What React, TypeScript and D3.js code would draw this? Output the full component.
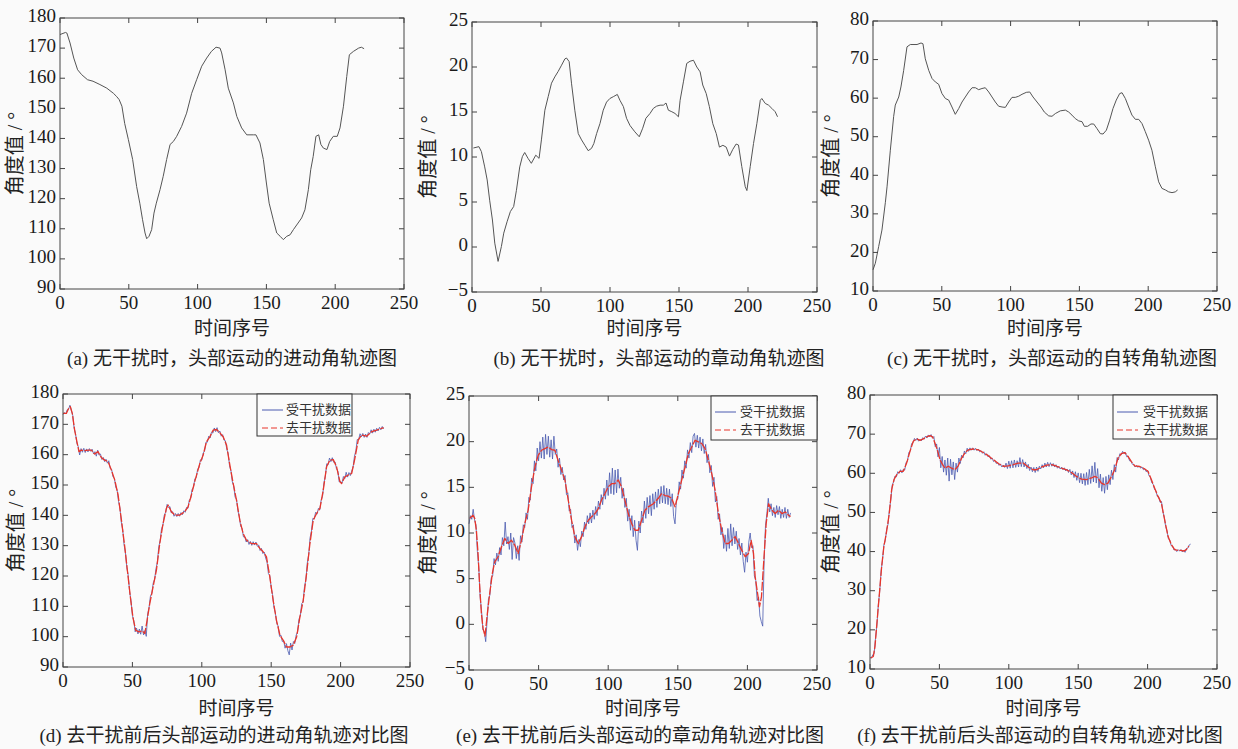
import React from "react";
import * as d3 from "d3";

// time index (x) and angle (deg)
// (a) precession, no disturbance
const aT = [0,4,5,7.3,10,12.8,15.7,20,24,29,34,38.8,41,43,45,47,49.7,52.8,55.7,58,60,61.8,63,64.7,66.6,68.3,70,72.7,75,77.5,80,82.4,84.8,88.4,92,95.7,99.3,103,106.6,110,113.4,116.3,117.5,120,122.3,126,128.5,132,135.7,140.5,142.4,145.3,147.8,150,152,155,157.5,160,162.3,164.8,167.2,169.6,173,175.6,178,180.5,182.2,184,186,188,189.6,191.4,194,196,198.6,201.5,203.5,206,208.4,210.3,213.2,217,219,221];
const aV = [174.5,175.2,175,171.7,166.7,162.8,161.2,159.5,159,157.9,156.7,155,154,152.9,150.7,145,139.6,133,124,118.5,113,108.6,106.7,107.5,109.7,115.2,118.5,123,127.4,133,138,139,140.7,144,148.4,155,159.5,164,166.7,168.9,170.3,170,168.4,162.8,156.7,151.8,147.3,143.5,141.2,141.2,141.2,138.5,133,125.2,118.5,113,108.6,107.5,106.4,107.5,108,109.7,111.9,113.6,116.3,123,129.6,134,140.7,141.2,138,136.8,136.3,139,140.7,140.7,143.5,150.7,160.6,167.8,168.9,170,170.3,169.8];

// (b) nutation, no disturbance
const bT = [1,5,6.8,9.2,11,12.8,14.8,16.5,18.9,21.3,23,25.4,27.8,30.2,32.2,34.6,36.5,38.2,40.6,43,46.2,48.6,50.3,52.8,55.2,57.6,60,62.4,64.9,67.3,68.5,70.4,72.1,74.5,77,79.4,81.8,84.2,86.6,88.3,90.3,92.7,95.1,97.5,99.9,102.4,105.3,107.2,109.7,112,114.5,118,121.2,123.7,126,129,131.4,133.8,136.3,138.7,140.6,142.3,144.8,147.1,149.6,150.8,153.2,155.6,158,160.5,162.9,165.3,167.2,169.7,172,174.5,177,179.3,181.8,184.2,186.6,189,191.4,193.1,195.5,198,199.2,201.6,204,206.4,208.9,210,212.5,214.9,217.3,219.7,221.4];
const bV = [11.0,11.15,10.6,8.9,7.45,5.2,3.0,0.43,-1.6,0.06,1.54,2.8,3.94,4.5,6.3,8.9,10.04,10.5,9.85,9.3,10.2,9.85,11.9,15.2,16.7,18.2,18.9,19.5,20.2,20.9,21.0,20.6,18.2,15.2,12.6,11.9,11.3,10.7,10.96,11.5,12.6,13.7,15.2,16.1,16.5,16.7,16.95,16.3,15.6,14.3,13.5,12.8,12.25,13.2,14.3,14.84,15.4,15.65,15.76,15.76,16.0,15.2,15.03,14.84,14.47,16.3,18.35,20.4,20.64,20.75,20.0,19.46,18.0,17.06,15.6,13.7,12.6,11.1,11.3,11.1,10.1,10.85,11.44,11.33,8.93,6.7,6.27,8.93,11.5,13.7,16.3,16.5,15.95,15.76,15.4,15.03,14.47];

// (c) spin, no disturbance
const cT = [0,1.7,4.1,6.5,9,10.2,12.6,15,16.2,18.7,20.3,22.3,24.7,27.1,32,34.9,36.3,38,40.5,42.9,45.3,47.7,50.1,52.6,55,57.4,59.8,62.3,64.7,67.1,69.5,72,74.4,76.8,79.2,81.6,84.1,86.5,88.9,91.3,93.8,96.2,98.6,101,103.4,105.9,108.3,111.4,113.9,116.3,119.2,122.1,124.5,127.7,130.1,132.5,136.1,139.8,142.2,144.6,147,149.5,151.9,153.6,156,158.4,160.4,162.8,165.2,167.2,169.6,172,174.4,176.8,179.3,181,183.4,185.8,188.2,190.7,193.1,195.5,197.9,200.3,202.7,205.2,207.6,210,212.5,214.9,217.3,219.7,221.4];
const cV = [15.5,17.2,21.5,25.8,33,37,46.5,55.2,58.2,60.3,62.9,67.2,73.3,73.9,73.9,74.3,74.1,70.2,67.2,65.1,64.2,63.6,61.2,59.9,59.5,57.7,55.8,57.3,59.0,60.3,61.6,62.7,62.7,62.2,62.5,62.7,61.6,60.3,59.0,57.9,57.7,57.6,59.0,60.2,60.2,60.5,61.0,61.5,61.6,60.3,59.0,57.7,56.4,55.4,55.3,56.0,56.7,56.9,56.4,55.6,54.7,54.1,53.9,52.7,52.7,53.3,53.3,52.1,50.8,50.7,51.7,54.3,57.3,59.5,61.2,61.4,59.9,57.7,55.6,54.5,54.5,53.4,51.3,49.1,46.5,42.2,38.3,36.6,36.2,35.7,35.5,35.7,36.2];

// (d) precession: disturbed (per index) and filtered
const dB = [173.2,173.9,173.4,174.8,175.0,176.3,174.6,173.0,168.8,166.9,
  163.8,162.6,159.9,162.0,160.8,162.1,160.7,161.9,160.9,162.0,
  161.1,161.8,160.3,161.0,159.5,161.5,159.8,160.2,158.4,159.1,
  157.7,158.5,157.2,158.0,155.4,155.2,152.7,152.3,149.3,148.3,
  144.6,142.5,137.8,135.3,130.3,127.6,122.7,120.2,114.8,111.9,
  107.0,105.3,101.6,102.8,100.9,102.5,100.8,103.5,100.6,102.0,
  100.1,107.5,109.6,113.4,114.3,117.7,118.9,122.4,124.6,129.6,
  131.7,135.6,136.8,140.1,141.0,143.6,142.6,142.9,140.8,141.2,
  139.7,140.6,139.6,140.6,139.7,140.9,140.2,141.5,141.0,142.6,
  142.3,145.0,145.6,148.5,149.3,152.0,152.5,155.2,155.8,158.3,
  158.2,160.5,161.2,164.1,164.1,166.1,165.5,167.4,167.1,168.8,
  167.6,168.9,167.2,167.8,166.1,166.6,164.8,164.6,161.8,160.4,
  156.3,154.7,151.0,149.7,146.0,145.3,141.6,139.6,136.4,135.7,
  132.9,132.9,131.2,132.0,130.4,131.4,130.1,131.3,130.2,131.2,
  129.8,130.2,128.4,129.1,127.4,127.9,125.9,124.6,120.8,120.1,
  116.1,113.8,109.6,107.8,104.4,103.5,100.1,100.5,98.4,98.7,
  96.2,97.7,95.4,94.0,97.9,95.6,98.4,97.8,100.5,101.6,
  105.7,107.1,110.9,111.5,116.5,118.8,124.3,127.0,132.6,134.8,
  139.0,138.8,141.0,140.4,142.3,141.8,145.0,146.3,150.7,152.9,
  157.0,156.7,158.9,157.7,159.0,157.5,157.6,155.4,154.6,151.0,
  151.2,150.6,152.8,152.1,154.2,152.6,154.1,153.1,154.6,155.9,
  159.5,161.3,165.0,165.0,166.9,165.9,167.0,165.7,166.8,165.7,
  167.3,166.8,168.2,167.1,168.4,167.4,168.7,167.8,169.0,168.2,
  169.3,168.5];
const dT = [0,2.4,4.1,5.3,6.7,8.4,10,11.5,13.2,15.6,18,20.4,22.8,25.2,27.6,30,32.5,34.9,37.3,39.7,42.1,44.5,46.9,48.8,50.5,52.4,54.8,57.2,58.9,60.6,62.5,64.9,67.3,69.7,72.1,74.5,75.7,78.1,80.5,84.1,87.7,90.1,92.5,94.9,98.6,101,103.4,105.8,108.2,110.6,113,115.4,117.8,120.2,122.6,125,127.4,129.8,132.2,135.8,139.4,141.8,144.2,146.6,149,151.4,153.8,156.3,158.7,161,163.5,165.9,168.3,170.7,173.1,175.5,177.9,180.3,182.7,185.1,187.5,189.9,192.3,194.7,197.1,199.5,200.7,203.1,205.5,208,210.3,212.7,215.1,218.8,222.4,226,229.6,231];
const dR = [173.6,173.6,175.3,175.8,173.6,168.1,164.3,161,161.5,161.3,161.5,161.5,160.2,161,159.1,158.2,157.7,154.9,151.6,146.7,138.4,129.6,119.7,112,106,102.1,101.6,101.9,101,105.4,110.9,116.4,121.9,130.7,137.3,142.3,143.4,141.2,140.1,140.1,141.2,142.8,146.7,151.1,157.1,159.9,164.3,165.9,168.1,168.3,167.2,165.9,163.2,156.6,150.5,145,138.4,134,131.8,130.7,130.7,129.1,128,126.3,119.7,112,105.4,100.5,98.8,96.6,96.6,97.2,99.9,106.5,112,120.8,130.7,138.4,140.6,142.3,148.3,156,158.2,158.4,156,151.1,150.5,152.7,153.3,153.8,158.8,164.8,166.5,166.1,167.6,168.1,168.7,168.9];

// (e) nutation: disturbed (per index) and filtered
const eB = [11.0,11.9,11.5,12.6,11.4,10.9,8.0,6.3,3.0,1.5,
  -0.6,-0.8,-1.9,0.4,2.8,3.2,5.1,5.3,7.2,6.5,
  7.8,6.9,8.4,7.6,9.5,8.6,11.2,8.8,9.6,8.2,
  10.0,7.1,9.5,8.9,7.2,8.6,7.0,9.7,9.0,10.9,
  10.6,12.2,11.5,13.9,13.6,16.0,15.4,17.9,16.8,19.3,
  17.9,20.0,18.2,20.5,18.1,20.8,18.6,20.6,18.3,20.2,
  18.1,20.6,18.6,19.2,17.2,18.2,16.4,17.2,15.8,16.3,
  14.2,14.4,12.4,12.6,10.6,10.9,8.9,9.8,8.1,9.3,
  8.5,10.2,9.6,11.2,10.4,11.9,11.0,12.2,11.1,12.5,
  11.5,12.9,11.9,13.5,12.6,14.2,13.1,14.9,13.7,15.8,
  14.1,16.6,14.3,17.1,14.2,16.9,14.4,17.0,14.9,16.1,
  13.8,14.9,12.8,13.8,11.3,12.6,10.3,11.9,9.6,11.4,
  9.2,8.1,11.3,10.0,12.4,11.1,13.5,11.6,13.9,12.1,
  14.1,11.9,14.3,12.6,14.5,12.8,14.8,13.2,15.1,13.3,
  15.2,13.2,14.9,13.1,14.8,12.9,14.3,11.8,11.0,13.6,
  13.7,15.6,14.8,16.9,16.0,17.9,17.1,19.1,18.2,19.9,
  18.8,20.6,20.9,19.4,20.7,19.3,20.5,19.0,20.3,18.7,
  19.7,17.7,18.6,16.6,17.4,15.1,16.1,13.4,14.0,11.5,
  12.1,9.8,10.6,8.3,9.8,8.0,10.5,8.3,11.0,8.6,
  10.6,8.8,10.2,8.2,9.4,7.6,8.9,6.9,5.7,7.9,
  6.8,9.0,10.0,8.4,8.6,5.3,4.8,2.6,3.0,0.9,
  0.3,-0.2,6.9,10.8,12.1,13.8,12.3,13.2,11.9,12.8,
  11.7,13.0,12.0,12.9,11.6,12.6,11.7,12.8,11.6,12.6,
  11.7,12.2];
const eT = [0.5,2.9,4.1,5.3,6.5,7.7,8.9,10.1,11.5,13.2,14.9,16.8,18.5,20.9,23.3,25.7,28.1,30.5,32.9,35.3,37.7,40.1,42.5,44.9,47.3,49.7,52.1,54.5,56.9,59.3,61.7,64,66.5,68.9,71.3,73.7,76,78.5,80.9,83.3,85.7,88,90.5,92.9,95.2,97.6,100,102.4,104.8,107.2,109.6,112,114.4,116.8,119.2,121.6,124,126.4,128.8,132.4,136,138.4,140.8,143.2,145.6,148,150.4,152.8,155.2,157.6,160,162.4,164.8,167.2,169.6,172,174.4,176.8,179.2,181.6,184,186.4,188.8,191.2,193.6,196,198.4,200.8,202.7,204.4,205.6,207.3,208.7,210.1,212.1,213.5,215.2,217.6,220,222.4,224.8,227.2,229.6,231];
const eR = [11.6,11.95,11.6,10.3,7.76,4.1,1.2,-0.45,-1.28,1.2,3.4,5.6,6.84,7.4,8.5,9.4,8.85,9.2,8.67,7.76,9.2,11.04,12.5,15.05,17.2,18.5,19.06,19.24,19.42,19.13,19.06,17.96,16.9,15.8,13.6,11.4,9.6,8.85,9.6,10.7,11.4,11.77,12.13,12.68,13.6,14.3,15.05,15.4,15.4,15.8,15.05,13.6,12.13,11.04,10.3,10.3,11.4,12.5,12.86,13.2,13.8,14.3,14.1,14.03,13.8,12.86,14.3,15.8,17.2,18.7,19.42,20.15,19.97,19.8,19.24,17.96,16.5,14.7,12.13,10.3,8.85,8.85,9.2,9.6,8.85,8.1,7.4,7.76,9.2,7.76,5.2,3.4,1.92,3.0,7.76,11.04,13.2,12.5,12.13,12.5,12.13,12.3,11.95,11.8];

// (f) spin: disturbed (per index) and filtered
const fB = [12.9,12.8,13.6,14.0,18.0,21.3,26.4,29.8,35.0,37.8,
  41.7,42.8,45.7,47.0,50.7,53.3,57.0,57.8,59.3,59.1,
  60.4,60.0,60.9,60.1,61.0,60.8,62.7,63.2,65.3,65.7,
  67.6,67.8,68.9,68.4,69.0,68.2,68.7,68.3,69.1,68.7,
  69.5,69.0,69.8,69.3,69.9,69.0,69.4,66.8,67.5,64.2,
  66.6,61.4,64.3,60.3,63.4,59.5,63.9,58.0,63.6,59.6,
  62.9,58.4,62.6,60.3,63.9,62.5,64.6,63.9,65.7,65.0,
  66.4,65.6,66.5,65.9,66.5,65.9,66.4,65.8,66.2,65.5,
  65.8,65.1,65.5,64.6,65.0,64.2,64.5,63.6,63.9,63.0,
  63.3,62.5,62.8,62.0,62.4,61.6,62.1,61.5,62.6,61.2,
  63.1,61.3,63.2,61.4,63.4,61.5,63.2,61.6,64.0,61.7,
  63.5,61.6,62.9,61.2,62.3,60.7,61.6,60.4,61.5,60.2,
  61.6,60.5,61.8,61.1,62.2,61.4,62.6,61.6,62.8,61.7,
  62.7,61.8,62.5,61.6,62.2,61.3,61.8,61.1,61.6,60.9,
  61.4,60.6,61.1,60.2,61.0,59.6,60.6,58.9,60.4,58.2,
  60.1,57.6,60.0,57.3,59.9,56.9,60.2,57.1,61.0,57.4,
  61.9,57.8,62.8,57.5,61.2,56.3,59.8,55.4,58.9,54.9,
  59.2,55.8,59.6,57.1,60.8,58.4,62.2,60.3,64.0,63.4,
  65.0,64.7,65.6,65.0,65.3,64.2,64.3,63.2,63.2,62.3,
  62.3,61.6,62.0,61.5,61.9,61.3,61.6,60.9,61.2,60.4,
  60.7,59.4,59.0,57.6,57.2,55.9,55.5,54.1,54.0,52.6,
  52.8,50.2,48.8,46.4,45.3,43.3,42.9,41.5,41.4,40.4,
  40.6,40.0,40.5,40.1,40.5,39.9,40.4,39.8,40.8,40.9,
  41.7,41.9];
const fT = [0.5,2.4,3.6,4.8,6,7.2,8.4,10,12,13.9,15.6,17.3,19.2,21.6,24,26.4,28.8,31.2,33.6,36,38.4,40.8,43.2,45.1,46.8,48.5,50.4,52.3,54,56.4,58.8,61.2,63.6,66,68.4,70.8,74.4,78,81.6,85.2,88.8,92.4,96,99.6,103.2,106.8,110.4,114,117.6,120,123.6,127.2,130.8,134.4,138,141.6,145.2,148.8,152.4,156,159.6,162,164.3,166.7,169.1,171.5,174,176.3,178.7,181.1,183.5,185.9,188.3,190.7,193.1,195.5,197.9,200.3,202.7,205.1,207.5,209.9,212.3,214.7,217.1,219.5,221.9,224.3,226,227.9,229.8];
const fR = [12.8,13.2,15.8,20.9,26,31.1,36.2,41.3,45.2,49.8,55.8,58.4,59.6,60.5,60.5,62.6,65.6,68.2,68.8,68.4,68.8,69.3,69.6,69.3,67.7,66,63.5,62.2,61.3,61.8,61.3,60.9,61.9,63.9,65.2,66,66.2,66,65.3,64.5,63.5,62.5,61.8,61.9,62.2,62.6,62.6,61.6,60.9,60.9,61.6,62.1,62.2,61.8,61.3,60.9,60.2,59.2,58.5,58.4,58.8,59.2,58.8,57.5,57.1,57.5,59.2,60.9,63.9,65,65.3,64.3,63,61.9,61.8,61.6,61.1,60.5,58.4,56.2,54.1,52.4,48.1,43.9,41.8,40.5,40.3,40.3,40.1,40.5,41.4];

const xTicks = [0, 50, 100, 150, 200, 250];
const precTicks = [90, 100, 110, 120, 130, 140, 150, 160, 170, 180];
const nutTicks = [-5, 0, 5, 10, 15, 20, 25];
const spinTicks = [10, 20, 30, 40, 50, 60, 70, 80];
const legendNames = ["受干扰数据", "去干扰数据"];
const captions = [
  "(a) 无干扰时，头部运动的进动角轨迹图",
  "(b) 无干扰时，头部运动的章动角轨迹图",
  "(c) 无干扰时，头部运动的自转角轨迹图",
  "(d) 去干扰前后头部运动的进动角轨迹对比图",
  "(e) 去干扰前后头部运动的章动角轨迹对比图",
  "(f) 去干扰前后头部运动的自转角轨迹对比图",
];

const idx = d3.range(dB.length);
const GRAY = "#555";
const BLUE = "#4a5bb0";
const RED = "#e8352a";
const SERIF = "'Liberation Serif', 'Times New Roman', serif";
const MIXED = "'Liberation Serif', 'Noto Sans CJK SC', serif";
const CJK = "'Noto Sans CJK SC', sans-serif";

const panels = [
  { box: [60, 18, 404, 289], yDom: [90, 180], yTicks: precTicks, ylx: 17, cap: captions[0], capX: 232, capY: 361, lblY: 330,
    lines: [{ t: aT, v: aV, c: GRAY, w: 1 }] },
  { box: [472, 22, 817, 292], yDom: [-5, 25], yTicks: nutTicks, ylx: 430, cap: captions[1], capX: 659, capY: 361, lblY: 330,
    lines: [{ t: bT, v: bV, c: GRAY, w: 1 }] },
  { box: [873, 21, 1217, 291], yDom: [10, 80], yTicks: spinTicks, ylx: 833, cap: captions[2], capX: 1052, capY: 361, lblY: 330,
    lines: [{ t: cT, v: cV, c: GRAY, w: 1 }] },
  { box: [63, 394, 410, 667], yDom: [90, 180], yTicks: precTicks, ylx: 18, cap: captions[3], capX: 224, capY: 738, lblY: 710,
    lines: [{ t: idx, v: dB, c: BLUE, w: 0.8 }, { t: dT, v: dR, c: RED, w: 1.3, dash: "9,1.5" }],
    legend: { x: 257, y: 394, w: 95, h: 42, r1: 410, r2: 428, lx: 262, lw: 21, tx: 286 } },
  { box: [469, 396, 817, 670], yDom: [-5, 25], yTicks: nutTicks, ylx: 430, cap: captions[4], capX: 640, capY: 738, lblY: 710,
    lines: [{ t: idx, v: eB, c: BLUE, w: 0.8 }, { t: eT, v: eR, c: RED, w: 1.3, dash: "9,1.5" }],
    legend: { x: 711, y: 396, w: 106, h: 44, r1: 412, r2: 430, lx: 715, lw: 21, tx: 740 } },
  { box: [870, 395, 1217, 669], yDom: [10, 80], yTicks: spinTicks, ylx: 833, cap: captions[5], capX: 1040, capY: 738, lblY: 710,
    lines: [{ t: idx, v: fB, c: BLUE, w: 0.8 }, { t: fT, v: fR, c: RED, w: 1.3, dash: "9,1.5" }],
    legend: { x: 1113, y: 395, w: 104, h: 44, r1: 412, r2: 430, lx: 1117, lw: 21, tx: 1143 } },
];

const Panel = ({ p }: { p: any }) => {
  const [x0, y0, x1, y1] = p.box;
  const x = d3.scaleLinear().domain([0, 250]).range([x0, x1]);
  const y = d3.scaleLinear().domain(p.yDom).range([y1, y0]);
  const fmt = d3.format("d");
  const path = (t: number[], v: number[]) =>
    d3.line<number>().x((i) => x(t[i])).y((i) => y(v[i]))(d3.range(Math.min(t.length, v.length))) || "";
  const tk = 5;
  return (
    <g>
      <rect x={x0} y={y0} width={x1 - x0} height={y1 - y0} fill="#fbfbfb" stroke="none" />
      {p.lines.map((l: any, i: number) => (
        <path key={i} d={path(l.t, l.v)} fill="none" stroke={l.c} strokeWidth={l.w}
          strokeDasharray={l.dash} strokeLinejoin="round" />
      ))}
      <rect x={x0} y={y0} width={x1 - x0} height={y1 - y0} fill="none" stroke="#444" strokeWidth={1} />
      {xTicks.map((t) => (
        <g key={"x" + t}>
          <line x1={x(t)} x2={x(t)} y1={y1} y2={y1 - tk} stroke="#444" />
          <line x1={x(t)} x2={x(t)} y1={y0} y2={y0 + tk} stroke="#444" />
          <text x={x(t)} y={y1 + 16} textAnchor="middle" dominantBaseline="middle" fontSize={19}
            fontFamily={SERIF} fill="#1a1a1a">{fmt(t)}</text>
        </g>
      ))}
      {p.yTicks.map((t: number) => (
        <g key={"y" + t}>
          <line x1={x0} x2={x0 + tk} y1={y(t)} y2={y(t)} stroke="#444" />
          <line x1={x1} x2={x1 - tk} y1={y(t)} y2={y(t)} stroke="#444" />
          <text x={x0 - 4} y={y(t)} textAnchor="end" dominantBaseline="middle" fontSize={19}
            fontFamily={SERIF} fill="#1a1a1a">{fmt(t)}</text>
        </g>
      ))}
      <text x={(x0 + x1) / 2} y={p.lblY} textAnchor="middle" dominantBaseline="middle" fontSize={19}
        fontFamily={CJK} fill="#222">时间序号</text>
      <text transform={`translate(${p.ylx},${(y0 + y1) / 2}) rotate(-90)`} textAnchor="middle" dominantBaseline="middle"
        fontSize={20} fontFamily={MIXED} fill="#222">角度值 / °</text>
      <text x={p.capX} y={p.capY} textAnchor="middle" dominantBaseline="middle" fontSize={19}
        fontFamily={MIXED} fill="#222">{p.cap}</text>
      {p.legend && (
        <g>
          <rect x={p.legend.x} y={p.legend.y} width={p.legend.w} height={p.legend.h} fill="#fbfbfb" stroke="#333" />
          {legendNames.map((n, i) => {
            const ry = i === 0 ? p.legend.r1 : p.legend.r2;
            const l = p.lines[i];
            return (
              <g key={n}>
                <line x1={p.legend.lx} x2={p.legend.lx + p.legend.lw} y1={ry} y2={ry} stroke={l.c}
                  strokeWidth={1} strokeDasharray={i === 1 ? "6,3" : undefined} />
                <text x={p.legend.tx} y={ry} dominantBaseline="middle" fontSize={13} fontFamily={CJK}
                  fill="#333">{n}</text>
              </g>
            );
          })}
        </g>
      )}
    </g>
  );
};

export default function App() {
  return (
    <svg width={1238} height={749} style={{ position: "absolute", left: 0, top: 0 }}>
      <rect x={0} y={0} width={1238} height={749} fill="#fafafa" />
      {panels.map((p, i) => (
        <Panel key={i} p={p} />
      ))}
    </svg>
  );
}
